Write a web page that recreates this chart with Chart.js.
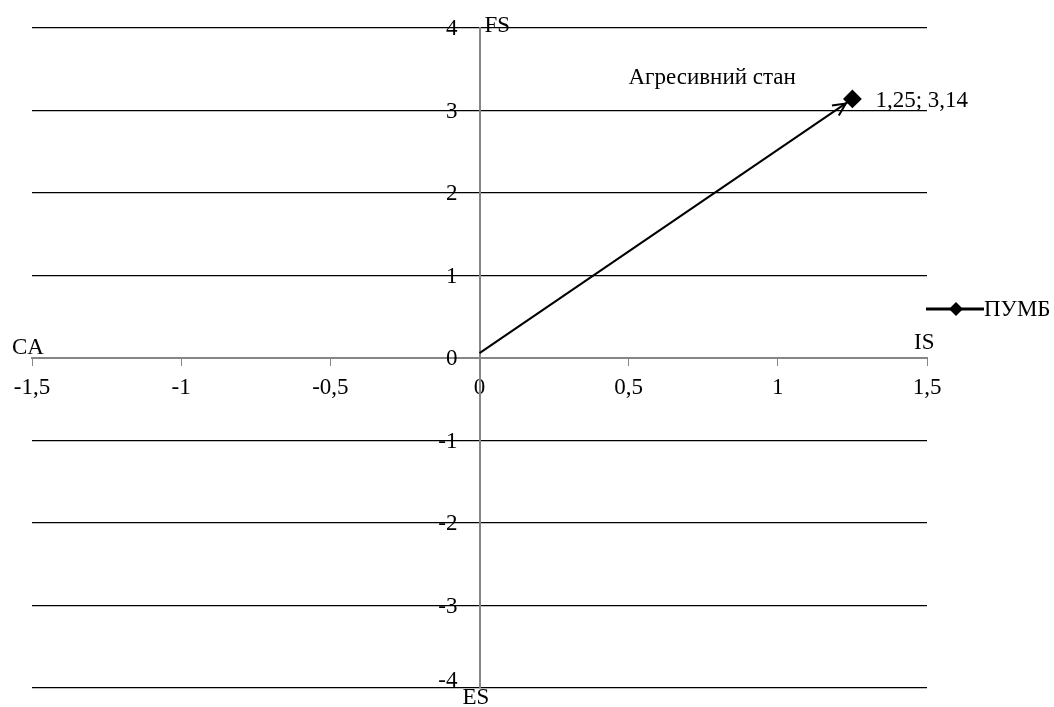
<!DOCTYPE html>
<html>
<head>
<meta charset="utf-8">
<script src="https://cdn.jsdelivr.net/npm/chart.js@4"></script>
<style>
html,body{margin:0;padding:0;background:#fff;}
#wrap{width:1054px;height:707px;}
</style>
</head>
<body>
<div id="wrap"><canvas id="c" width="1054" height="707"></canvas></div>
<script>
// Data
const seriesName = 'ПУМБ';
const xValues = [0, 1.25];
const yValues = [0.06, 3.14];
const pointLabel = '1,25; 3,14';
const annotationText = 'Агресивний стан';
const xTicks = [-1.5, -1, -0.5, 0, 0.5, 1, 1.5];
const yTicks = [-4, -3, -2, -1, 0, 1, 2, 3, 4];
const axisNames = {top: 'FS', bottom: 'ES', left: 'CA', right: 'IS'};

const FONT = '"Liberation Serif", "Times New Roman", serif';
const FS = 23;
const fmt = v => String(v).replace('.', ',');

const overlay = {
  id: 'overlay',
  afterDatasetsDraw(chart) {
    const ctx = chart.ctx;
    const xs = chart.scales.x, ys = chart.scales.y;
    const x0 = xs.getPixelForValue(xValues[0]), y0 = ys.getPixelForValue(yValues[0]);
    const x1 = xs.getPixelForValue(xValues[1]), y1 = ys.getPixelForValue(yValues[1]);
    const ang = Math.atan2(y1 - y0, x1 - x0);
    // arrow head (open)
    const tipX = x1 - 8 * Math.cos(ang), tipY = y1 - 8 * Math.sin(ang);
    ctx.save();
    ctx.strokeStyle = '#000';
    ctx.lineWidth = 2;
    ctx.beginPath();
    const L = 14, a = 0.45;
    ctx.moveTo(tipX - L * Math.cos(ang - a), tipY - L * Math.sin(ang - a));
    ctx.lineTo(tipX, tipY);
    ctx.lineTo(tipX - L * Math.cos(ang + a), tipY - L * Math.sin(ang + a));
    ctx.stroke();
    // marker on top
    ctx.fillStyle = '#000';
    ctx.beginPath();
    const r = 8;
    ctx.moveTo(x1, y1 - r); ctx.lineTo(x1 + r, y1); ctx.lineTo(x1, y1 + r); ctx.lineTo(x1 - r, y1);
    ctx.closePath(); ctx.fill();

    ctx.font = FS + 'px ' + FONT;
    ctx.fillStyle = '#000';
    ctx.textBaseline = 'middle';
    ctx.textAlign = 'left';
    ctx.fillText(pointLabel, x1 + 23, y1 + 2);
    ctx.fillText(annotationText, x1 - 224, y1 - 21);

    // y tick labels, left of the crossing axis
    const cx = xs.getPixelForValue(0), cy = ys.getPixelForValue(0);
    ctx.textAlign = 'right';
    yTicks.forEach(v => {
      const off = v === -4 ? -7 : 1;
      ctx.fillText(fmt(v), cx - 22, ys.getPixelForValue(v) + off);
    });

    // axis names
    const top = ys.getPixelForValue(4), bot = ys.getPixelForValue(-4);
    const left = xs.getPixelForValue(-1.5), right = xs.getPixelForValue(1.5);
    ctx.textAlign = 'left';
    ctx.fillText(axisNames.top, cx + 5, top - 2);
    ctx.fillText(axisNames.bottom, cx - 17, bot + 10);
    ctx.fillText(axisNames.left, left - 20, cy - 10);
    ctx.fillText(axisNames.right, right - 13, cy - 15);

    // legend
    const lx = 926, ly = 309;
    ctx.strokeStyle = '#000';
    ctx.lineWidth = 3;
    ctx.beginPath(); ctx.moveTo(lx, ly); ctx.lineTo(lx + 58, ly); ctx.stroke();
    ctx.beginPath();
    const lr = 7, lc = lx + 30;
    ctx.moveTo(lc, ly - lr); ctx.lineTo(lc + lr, ly); ctx.lineTo(lc, ly + lr); ctx.lineTo(lc - lr, ly);
    ctx.closePath(); ctx.fill();
    ctx.fillText(seriesName, lx + 58, ly + 1);
    ctx.restore();
  }
};

new Chart(document.getElementById('c'), {
  type: 'scatter',
  data: {
    datasets: [{
      label: seriesName,
      data: xValues.map((x, i) => ({x: x, y: yValues[i]})),
      showLine: true,
      borderColor: '#000',
      borderWidth: 2,
      backgroundColor: '#000',
      pointStyle: 'rectRot',
      pointRadius: [0, 8],
      pointHoverRadius: [0, 8]
    }]
  },
  options: {
    responsive: false,
    animation: false,
    events: [],
    layout: {padding: {left: 32, right: 127, top: 28, bottom: 19}},
    plugins: {legend: {display: false}, tooltip: {enabled: false}},
    scales: {
      x: {
        type: 'linear',
        position: {y: 0},
        min: -1.5, max: 1.5,
        afterBuildTicks: s => { s.ticks = xTicks.map(v => ({value: v})); },
        grid: {display: true, drawOnChartArea: false, drawTicks: true, tickLength: 7, color: '#868686', tickColor: '#868686'},
        border: {display: true, color: '#868686', width: 2},
        ticks: {
          color: '#000', padding: 9, maxRotation: 0, autoSkip: false,
          font: {family: FONT, size: FS},
          callback: v => fmt(v)
        }
      },
      y: {
        type: 'linear',
        position: {x: 0},
        min: -4, max: 4,
        afterBuildTicks: s => { s.ticks = yTicks.map(v => ({value: v})); },
        grid: {
          display: true, drawOnChartArea: true, drawTicks: false,
          color: ctx => (ctx.tick && ctx.tick.value === 0) ? 'rgba(0,0,0,0)' : '#000',
          lineWidth: 1.3
        },
        border: {display: true, color: '#868686', width: 2},
        ticks: {display: false}
      }
    }
  },
  plugins: [overlay]
});
</script>
</body>
</html>
